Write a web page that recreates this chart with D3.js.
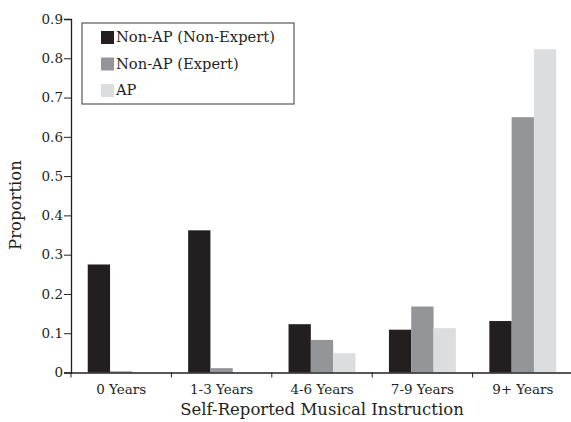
<!DOCTYPE html>
<html>
<head>
<meta charset="utf-8">
<script src="https://cdn.jsdelivr.net/npm/d3@7"></script>
<style>
  body { margin: 0; background: #fff; }
  text { font-family: 'DejaVu Serif', serif; fill: #231f20; }
</style>
</head>
<body>
<div id="svg-container"></div>
<script>
(function () {
  'use strict'

  var categories = ['0 Years', '1-3 Years', '4-6 Years', '7-9 Years', '9+ Years']
  var seriesNames = ['Non-AP (Non-Expert)', 'Non-AP (Expert)', 'AP']
  var nonExpert = [0.275, 0.362, 0.123, 0.109, 0.131]
  var expert = [0.003, 0.011, 0.083, 0.168, 0.650]
  var ap = [0, 0, 0.049, 0.113, 0.823]
  var yTicks = [0, 0.1, 0.2, 0.3, 0.4, 0.5, 0.6, 0.7, 0.8, 0.9]
  var colors = ['#231f20', '#939598', '#dcdddf']

  var seriesValues = [nonExpert, expert, ap]

  var dimensions = { w: 571, h: 422 }
  var offset = { left: 71, top: 19, right: -2, bottom: 49.5 }

  var svg = d3.select('#svg-container').append('svg')
    .attr('width', dimensions.w)
    .attr('height', dimensions.h)

  var plotW = dimensions.w - offset.left - offset.right
  var plotH = dimensions.h - offset.top - offset.bottom

  var scaleX = d3.scaleBand().domain(categories).range([0, plotW])
  var scaleS = d3.scaleBand().domain(seriesNames)
    .range([scaleX.bandwidth() / 6, scaleX.bandwidth() * 5 / 6])
  var scaleY = d3.scaleLinear().domain([0, 0.9]).range([plotH, 0])

  var chart = svg.append('g')
    .attr('transform', 'translate(' + offset.left + ',' + offset.top + ')')

  // Bars
  var groups = chart.selectAll('.group').data(categories).enter().append('g')
    .attr('class', 'group')
    .attr('transform', function (d) { return 'translate(' + scaleX(d) + ',0)' })

  groups.selectAll('rect')
    .data(function (d, i) {
      return seriesNames.map(function (s, j) { return { s: s, j: j, v: seriesValues[j][i] } })
    })
    .enter().append('rect')
    .attr('x', function (d) { return scaleS(d.s) })
    .attr('width', scaleS.bandwidth())
    .attr('y', function (d) { return scaleY(d.v) })
    .attr('height', function (d) { return plotH - scaleY(d.v) })
    .attr('fill', function (d) { return colors[d.j] })

  // Y axis
  var leftAxis = d3.axisLeft(scaleY).tickValues(yTicks).tickSizeOuter(0).tickSize(7)
    .tickFormat(function (d) { return d === 0 ? '0' : d3.format('.1f')(d) })
  var yAxis = chart.append('g').call(leftAxis)
  yAxis.selectAll('text').style('font-size', '13.5px').attr('x', -8)

  // X axis
  var bottomAxis = d3.axisBottom(scaleX).tickSize(0).tickSizeOuter(0)
  var xAxis = chart.append('g')
    .attr('transform', 'translate(0,' + plotH + ')')
    .call(bottomAxis)
  xAxis.selectAll('text').style('font-size', '13.5px').attr('dy', 0).attr('y', 21)
  xAxis.selectAll('.boundary').data(categories).enter().append('line')
    .attr('class', 'boundary')
    .attr('x1', function (d) { return scaleX(d) })
    .attr('x2', function (d) { return scaleX(d) })
    .attr('y1', 0).attr('y2', 5)
    .attr('stroke', '#231f20')

  chart.selectAll('.domain').attr('stroke', '#231f20').attr('stroke-width', 1.3)
  chart.selectAll('.tick line').attr('stroke', '#231f20')

  // Axis titles
  svg.append('text')
    .attr('x', offset.left + plotW / 2).attr('y', 415)
    .attr('text-anchor', 'middle')
    .style('font-size', '16.5px')
    .text('Self-Reported Musical Instruction')

  svg.append('text')
    .attr('transform', 'translate(21,205) rotate(-90)')
    .attr('text-anchor', 'middle')
    .style('font-size', '16.5px')
    .text('Proportion')

  // Legend
  var legend = svg.append('g').attr('transform', 'translate(82,23)')
  legend.append('rect')
    .attr('width', 212).attr('height', 81)
    .attr('fill', '#fff').attr('stroke', '#58595b').attr('stroke-width', 1.2)

  var items = legend.selectAll('.item').data(seriesNames).enter().append('g')
    .attr('class', 'item')
    .attr('transform', function (d, i) { return 'translate(19,' + (14 + i * 26.5) + ')' })
  items.append('rect')
    .attr('y', -6).attr('width', 13).attr('height', 13)
    .attr('fill', function (d, i) { return colors[i] })
  items.append('text')
    .attr('x', 15).attr('dy', '0.35em')
    .style('font-size', '14.7px')
    .text(function (d) { return d })
}())
</script>
</body>
</html>
